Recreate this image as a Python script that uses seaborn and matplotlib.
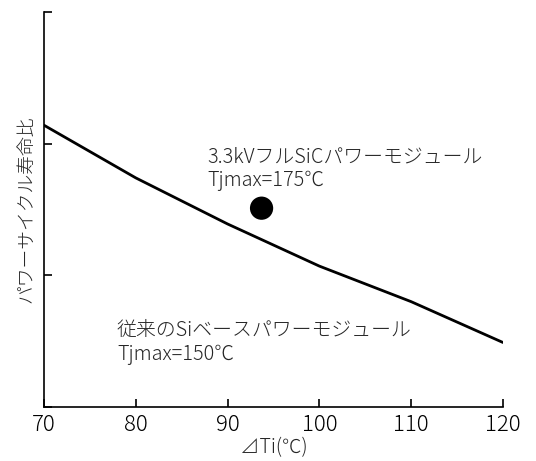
import matplotlib
matplotlib.use("Agg")
import matplotlib.pyplot as plt
import seaborn as sns
import pandas as pd

# conventional Si module curve (relative life, linear units)
delta_t = [70, 80, 90, 100, 110, 120]
life_ratio = [2.14, 1.74, 1.39, 1.07, 0.80, 0.49]

# 3.3kV full SiC module point
sic_dt = [93.7]
sic_life = [1.51]

x_ticks = [70, 80, 90, 100, 110, 120]
y_ticks = [0, 1, 2, 3]

sns.set_style("ticks")
plt.rcParams["font.family"] = ["Noto Sans CJK JP", "DejaVu Sans"]

df = pd.DataFrame({"dt": delta_t, "life": life_ratio})
df_sic = pd.DataFrame({"dt": sic_dt, "life": sic_life})

fig = plt.figure(figsize=(5.36, 4.61), dpi=100)
ax = fig.add_axes([0.0821, 0.1171, 0.9384 - 0.0821, 0.974 - 0.1171])

sns.lineplot(data=df, x="dt", y="life", color="black", linewidth=2.0, ax=ax)
sns.scatterplot(data=df_sic, x="dt", y="life", color="black", s=280,
                edgecolor="none", ax=ax, zorder=3)

ax.set_xlim(70, 120)
ax.set_ylim(0, 3)
ax.set_xticks(x_ticks)
ax.set_yticks(y_ticks)
ax.set_yticklabels([])
ax.tick_params(direction="in", length=6, width=1.2, labelsize=16, colors="black")
ax.tick_params(axis="x", pad=5)

for side in ["top", "right"]:
    ax.spines[side].set_visible(False)
for side in ["left", "bottom"]:
    ax.spines[side].set_linewidth(1.2)
    ax.spines[side].set_color("black")

ax.set_xlabel("⊿Ti(℃)", fontsize=14, labelpad=1, fontweight="light")
ax.set_ylabel("パワーサイクル寿命比", fontsize=13.5, labelpad=3, fontweight="light")
for lbl in ax.get_xticklabels():
    lbl.set_fontweight("light")

ax.text(87.8, 1.81, "3.3kVフルSiCパワーモジュール\nTjmax=175℃",
        fontsize=14.3, va="center", ha="left", linespacing=1.2, fontweight="light")
ax.text(77.95, 0.49, "従来のSiベースパワーモジュール\nTjmax=150℃",
        fontsize=14.3, va="center", ha="left", linespacing=1.2, fontweight="light")

fig.savefig("out.png", dpi=100)
